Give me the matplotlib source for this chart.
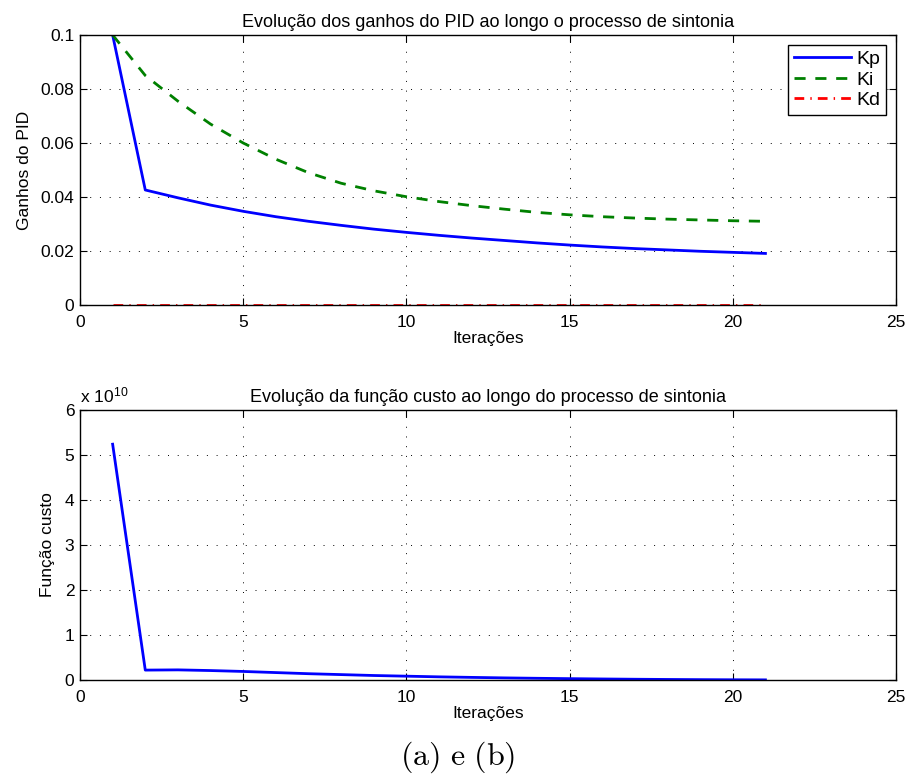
import matplotlib
matplotlib.use("Agg")
import matplotlib.pyplot as plt
from matplotlib.ticker import FixedLocator, FixedFormatter

plt.rcParams['font.family'] = ['Liberation Sans', 'DejaVu Sans']
plt.rcParams['mathtext.fontset'] = 'cm'

iters = list(range(1, 22))
kp = [0.1, 0.0426, 0.0397, 0.0370, 0.0347, 0.0327, 0.0310, 0.0295, 0.0281, 0.0269,
      0.0258, 0.0248, 0.0239, 0.0230, 0.0222, 0.0215, 0.0209, 0.0204, 0.0199, 0.0195, 0.0191]
ki = [0.1, 0.0850, 0.0755, 0.0670, 0.0600, 0.0540, 0.0490, 0.0451, 0.0423, 0.0401,
      0.0383, 0.0368, 0.0355, 0.0343, 0.0334, 0.0327, 0.0322, 0.0318, 0.0315, 0.0312, 0.0310]
kd = [0.0] * 21
cost_e10 = [5.24, 0.22, 0.225, 0.21, 0.19, 0.165, 0.14, 0.12, 0.10, 0.085, 0.07,
            0.058, 0.047, 0.038, 0.030, 0.023, 0.017, 0.012, 0.008, 0.005, 0.003]

xticks = [0, 5, 10, 15, 20, 25]
yticks_top = [0, 0.02, 0.04, 0.06, 0.08, 0.1]
ytick_labels_top = ['0', '0.02', '0.04', '0.06', '0.08', '0.1']
yticks_bot = [0, 1, 2, 3, 4, 5, 6]

W, H = 908, 784
fig = plt.figure(figsize=(W / 100, H / 100), dpi=100)

def ax_rect(l, t, r, b):
    return [l / W, 1 - b / H, (r - l) / W, (b - t) / H]

fs = 12.5
tfs = 13

def style(ax):
    ax.tick_params(direction='in', top=True, right=True, labelsize=fs, length=5, width=0.8)
    ax.tick_params(axis='x', pad=7)
    ax.tick_params(axis='y', pad=4)
    ax.grid(True, linestyle=(0, (1, 9)), color='black', linewidth=0.7)
    for s in ax.spines.values():
        s.set_linewidth(1.0)
    ax.set_xlim(0, 25)
    ax.xaxis.set_major_locator(FixedLocator(xticks))

ax1 = fig.add_axes(ax_rect(80, 35, 896, 305))
ax1.plot(iters, kp, color='#0000ff', lw=2, label='Kp')
ax1.plot(iters, ki, color='#008000', lw=2, linestyle=(0, (4, 3.5)), label='Ki')
ax1.plot(iters, kd, color='#ff0000', lw=2, linestyle=(0, (3.5, 2.2, 0.5, 2.2)), label='Kd')
style(ax1)
ax1.set_ylim(0, 0.1)
ax1.yaxis.set_major_locator(FixedLocator(yticks_top))
ax1.yaxis.set_major_formatter(FixedFormatter(ytick_labels_top))
ax1.set_title('Evolução dos ganhos do PID ao longo o processo de sintonia', fontsize=tfs, pad=6)
ax1.set_xlabel('Iterações', fontsize=fs, labelpad=1)
ax1.set_ylabel('Ganhos do PID', fontsize=fs, labelpad=6)
leg = ax1.legend(loc='upper right', fontsize=14, fancybox=False, framealpha=1,
                 edgecolor='black', handlelength=2.9, borderpad=0.3, labelspacing=0.15,
                 handletextpad=0.3, borderaxespad=0.5)
leg.get_frame().set_linewidth(1.0)

ax2 = fig.add_axes(ax_rect(80, 410, 896, 680))
ax2.plot(iters, cost_e10, color='#0000ff', lw=2)
style(ax2)
ax2.set_ylim(0, 6)
ax2.yaxis.set_major_locator(FixedLocator(yticks_bot))
ax2.set_title('Evolução da função custo ao longo do processo de sintonia', fontsize=tfs, pad=6)
ax2.set_xlabel('Iterações', fontsize=fs, labelpad=1)
ax2.set_ylabel('Função custo', fontsize=fs, labelpad=7)
ax2.text(0.0, 1.015, r'x 10$^{\mathregular{10}}$', transform=ax2.transAxes, fontsize=fs,
         ha='left', va='bottom')

fig.text(458 / W, 1 - 757 / H, r'$\mathrm{(a)\ e\ (b)}$', fontsize=23, ha='center', va='center')

fig.savefig('out.png', dpi=100)
